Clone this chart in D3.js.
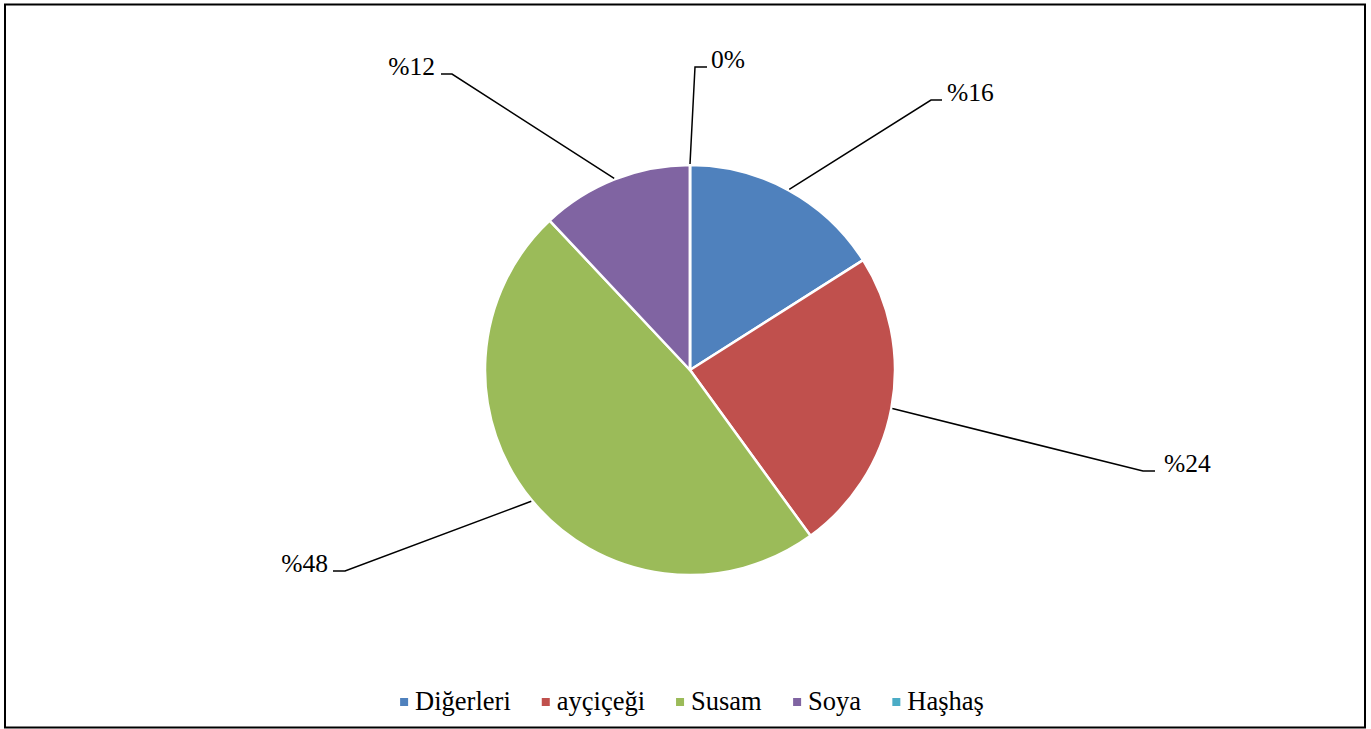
<!DOCTYPE html>
<html>
<head>
<meta charset="utf-8">
<script src="https://cdn.jsdelivr.net/npm/d3@7"></script>
<style>
  body { margin: 0; background: #fff; }
  text { font-family: "Liberation Serif", "Times New Roman", serif; }
</style>
</head>
<body>
<div id="my_dataviz"></div>
<script>
// data
var categories = ["Diğerleri", "ayçiçeği", "Susam", "Soya", "Haşhaş"];
var values = [16, 24, 48, 12, 0];
var labels = ["%16", "%24", "%48", "%12", "0%"];
var colors = ["#4F81BD", "#C0504D", "#9BBB59", "#8064A2", "#4BACC6"];

// where each label was dragged to: elbow of the leader, end of the tick, text x
var labelLayout = [
  {ex: 931, ey: 100, tx: 942, lx: 947, anchor: "start"},
  {ex: 1143, ey: 471, tx: 1155, lx: 1164, anchor: "start"},
  {ex: 345, ey: 571, tx: 333, lx: 328, anchor: "end"},
  {ex: 452, ey: 74, tx: 441, lx: 435, anchor: "end"},
  {ex: 695, ey: 67, tx: 707, lx: 711, anchor: "start"}
];

var width = 1371, height = 729;
var cx = 690, cy = 370, radius = 205;

var svg = d3.select("#my_dataviz")
  .append("svg")
    .attr("width", width)
    .attr("height", height);

// frame
svg.append("rect")
  .attr("x", 5).attr("y", 4.5)
  .attr("width", 1360).attr("height", 723)
  .attr("fill", "none")
  .attr("stroke", "#000")
  .attr("stroke-width", 2);

var g = svg.append("g")
  .attr("transform", "translate(" + cx + "," + cy + ")");

var pie = d3.pie().sort(null).value(function(d) { return d; });
var arcs = pie(values);

var arc = d3.arc().innerRadius(0).outerRadius(radius);
var edge = d3.arc().innerRadius(radius + 1).outerRadius(radius + 1);

g.selectAll("path.slice")
  .data(arcs)
  .enter()
  .append("path")
    .attr("class", "slice")
    .attr("d", arc)
    .attr("fill", function(d, i) { return colors[i]; })
    .attr("stroke", "#fff")
    .attr("stroke-width", 2.5)
    .attr("stroke-linejoin", "round");

// leader lines
svg.selectAll("polyline.leader")
  .data(arcs)
  .enter()
  .append("polyline")
    .attr("class", "leader")
    .attr("points", function(d, i) {
      var c = edge.centroid(d);
      var L = labelLayout[i];
      return [[cx + c[0], cy + c[1]], [L.ex, L.ey], [L.tx, L.ey]].join(" ");
    })
    .attr("fill", "none")
    .attr("stroke", "#000")
    .attr("stroke-width", 1.5);

svg.selectAll("text.value")
  .data(arcs)
  .enter()
  .append("text")
    .attr("class", "value")
    .attr("x", function(d, i) { return labelLayout[i].lx; })
    .attr("y", function(d, i) { return labelLayout[i].ey + 1; })
    .attr("text-anchor", function(d, i) { return labelLayout[i].anchor; })
    .style("font-size", "25.5px")
    .attr("fill", "#000")
    .text(function(d, i) { return labels[i]; });

// legend, centred under the pie
var legend = svg.append("g");
var items = legend.selectAll("g.item")
  .data(categories)
  .enter()
  .append("g")
    .attr("class", "item");

items.append("rect")
  .attr("width", 8).attr("height", 8)
  .attr("y", -9)
  .attr("fill", function(d, i) { return colors[i]; });

items.append("text")
  .attr("x", 15)
  .attr("y", 0)
  .attr("dy", "0.1em")
  .style("font-size", "26.5px")
  .attr("fill", "#000")
  .text(function(d) { return d; });

var xpos = 0;
items.each(function() {
  var w = this.getBBox().width;
  d3.select(this).attr("transform", "translate(" + xpos + ",0)");
  xpos += w + 31;
});
var total = xpos - 31;
legend.attr("transform", "translate(" + (692 - total / 2) + ",707)");
</script>
</body>
</html>
